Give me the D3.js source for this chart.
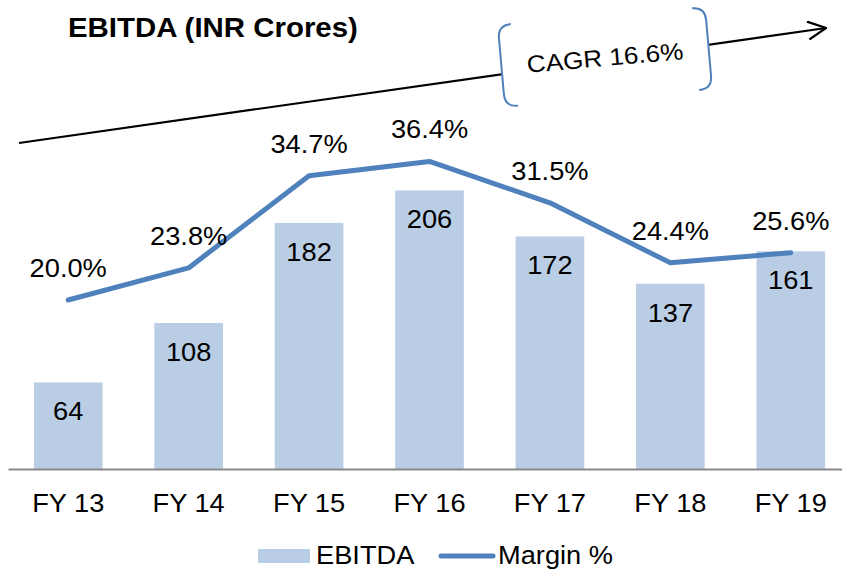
<!DOCTYPE html>
<html>
<head>
<meta charset="utf-8">
<script src="https://cdn.jsdelivr.net/npm/d3@7"></script>
<style>
body { margin: 0; background: #fff; }
text { font-family: "Liberation Sans", Arial, sans-serif; fill: #000; }
</style>
</head>
<body>
<div id="chart"></div>
<script>
var years = ['FY 13', 'FY 14', 'FY 15', 'FY 16', 'FY 17', 'FY 18', 'FY 19'];
var ebitda = [64, 108, 182, 206, 172, 137, 161];
var margin = [0.200, 0.238, 0.347, 0.364, 0.315, 0.244, 0.256];
var cagrLabel = 'CAGR 16.6%';

var W = 842, H = 570;
var barColor = '#b9cde5', lineColor = '#4f81bd';
var stretch = 1.09; // source slide text is a bit wider than Arial

var svg = d3.select('#chart').append('svg')
	.attr('width', W)
	.attr('height', H);

function at(px, py) {
	return 'translate(' + px + ',' + py + ') scale(' + stretch + ',1)';
}

var x = d3.scaleBand()
	.domain(years)
	.range([8, 851])
	.paddingInner(0.43)
	.paddingOuter(0.215);

var yBar = d3.scaleLinear()
	.domain([0, 250])
	.range([469, 131]);

var yPct = d3.scaleLinear()
	.domain([0, 0.4])
	.range([469, 131]);

var fmtPct = d3.format('.1%');
var cx = function(d, i) { return x(years[i]) + x.bandwidth() / 2; };

// title
svg.append('text')
	.attr('transform', at(68, 37))
	.style('font-weight', 'bold')
	.style('font-size', '27px')
	.text('EBITDA (INR Crores)');

// bars
svg.selectAll('rect.bar').data(ebitda)
	.enter().append('rect')
	.attr('class', 'bar')
	.attr('x', function(d, i) { return x(years[i]); })
	.attr('width', x.bandwidth())
	.attr('y', function(d) { return yBar(d); })
	.attr('height', function(d) { return yBar(0) - yBar(d); })
	.style('fill', barColor);

svg.selectAll('text.barlabel').data(ebitda)
	.enter().append('text')
	.attr('class', 'barlabel')
	.attr('transform', function(d, i) { return at(cx(d, i), yBar(d) + 38); })
	.attr('text-anchor', 'middle')
	.style('font-size', '25px')
	.text(function(d) { return d; });

// x axis
var xAxis = d3.axisBottom(x).tickSize(0).tickPadding(25);
var xg = svg.append('g')
	.attr('transform', 'translate(0,' + yBar(0) + ')')
	.call(xAxis);
xg.select('.domain').attr('stroke', '#898989').attr('stroke-width', 2);
xg.selectAll('text')
	.attr('transform', 'scale(' + stretch + ',1)')
	.style('font-size', '25px')
	.style('font-family', '"Liberation Sans", Arial, sans-serif');

// margin line
var line = d3.line()
	.x(cx)
	.y(function(d) { return yPct(d); });

svg.append('path')
	.datum(margin)
	.attr('d', line)
	.style('fill', 'none')
	.style('stroke', lineColor)
	.style('stroke-width', 5)
	.style('stroke-linecap', 'round')
	.style('stroke-linejoin', 'round');

svg.selectAll('text.pctlabel').data(margin)
	.enter().append('text')
	.attr('class', 'pctlabel')
	.attr('transform', function(d, i) { return at(cx(d, i), yPct(d) - 23); })
	.attr('text-anchor', 'middle')
	.style('font-size', '25px')
	.text(function(d) { return fmtPct(d); });

// growth arrow
var defs = svg.append('defs');
defs.append('marker')
	.attr('id', 'head')
	.attr('markerUnits', 'userSpaceOnUse')
	.attr('viewBox', '0 0 20 20')
	.attr('refX', 19)
	.attr('refY', 10)
	.attr('markerWidth', 20)
	.attr('markerHeight', 20)
	.attr('orient', 'auto')
	.append('path')
	.attr('d', 'M1,1 L19,10 L1,19')
	.style('fill', 'none')
	.style('stroke', '#000')
	.style('stroke-width', 2.2);

svg.append('line')
	.attr('x1', 19).attr('y1', 143)
	.attr('x2', 826).attr('y2', 28)
	.style('stroke', '#000')
	.style('stroke-width', 2.2)
	.attr('marker-end', 'url(#head)');

// CAGR callout
var box = svg.append('g')
	.attr('transform', 'translate(605,57) rotate(-5)');

box.append('rect')
	.attr('x', -104).attr('y', -41)
	.attr('width', 208).attr('height', 82)
	.style('fill', '#fff');

var r = 13;
box.append('path')
	.attr('d', 'M' + (-104 + r) + ',-41 Q-104,-41 -104,' + (-41 + r) +
		' L-104,' + (41 - r) + ' Q-104,41 ' + (-104 + r) + ',41')
	.style('fill', 'none')
	.style('stroke', lineColor)
	.style('stroke-width', 2);

box.append('path')
	.attr('d', 'M' + (104 - r) + ',-41 Q104,-41 104,' + (-41 + r) +
		' L104,' + (41 - r) + ' Q104,41 ' + (104 - r) + ',41')
	.style('fill', 'none')
	.style('stroke', lineColor)
	.style('stroke-width', 2);

box.append('text')
	.attr('transform', at(0, 9))
	.attr('text-anchor', 'middle')
	.style('font-size', '24px')
	.text(cagrLabel);

// legend
var leg = svg.append('g');
leg.append('rect')
	.attr('x', 258).attr('y', 549)
	.attr('width', 52).attr('height', 14)
	.style('fill', barColor);
leg.append('text')
	.attr('transform', at(316, 564))
	.style('font-size', '25px')
	.text('EBITDA');
leg.append('line')
	.attr('x1', 441).attr('y1', 556)
	.attr('x2', 493).attr('y2', 556)
	.style('stroke', lineColor)
	.style('stroke-width', 5)
	.style('stroke-linecap', 'round');
leg.append('text')
	.attr('transform', at(498, 564))
	.style('font-size', '25px')
	.text('Margin %');
</script>
</body>
</html>
